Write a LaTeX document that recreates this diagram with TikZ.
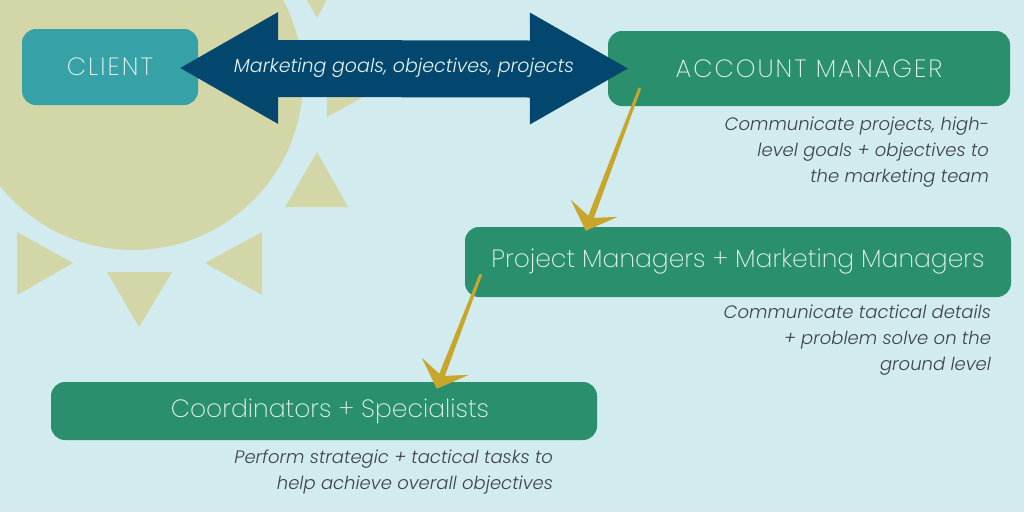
\documentclass[tikz,border=0pt]{standalone}
\usepackage{fontspec}
\setmainfont{Poppins}[UprightFont={* Light}, ItalicFont={* Light Italic}]
\newfontfamily\thinfont{Poppins ExtraLight}
\usetikzlibrary{calc}
\definecolor{bg}{HTML}{D1EBEE}
\definecolor{sun}{HTML}{D3D6A6}
\definecolor{clientc}{HTML}{36A2A7}
\definecolor{greenc}{HTML}{2A8F6D}
\definecolor{navy}{HTML}{03476F}
\definecolor{gold}{HTML}{C8A62B}
\definecolor{boxtext}{HTML}{E4F2EE}
\definecolor{captext}{HTML}{3D4245}
\newcommand{\GoldArrow}[2]{%
  \coordinate (nc) at ($(#2)+(5.3,-14)$);
  \fill[gold] ($(#1)+(-1.3,-0.5)$) -- ($(nc)+(-2.8,-1.1)$) -- ($(#2)+(-15,-31)$) -- (#2)
    -- ($(#2)+(32,-14)$) -- ($(nc)+(2.8,1.1)$) -- ($(#1)+(1.3,0.5)$) -- cycle;}
\begin{document}
\begin{tikzpicture}[x=1pt,y=-1pt,
  box/.style={rectangle, rounded corners=14pt, inner sep=0pt, text=boxtext},
  bigtext/.style={font=\thinfont\addfontfeature{LetterSpace=8}\fontsize{25}{30}\selectfont},
  midtext/.style={font=\thinfont\fontsize{25}{30}\selectfont},
  caption/.style={anchor=east, inner sep=0pt, align=right, text=captext,
    font=\itshape\fontsize{18}{26}\selectfont},
  ray/.style={fill=sun}]
\fill[bg] (0,0) rectangle (1024,512);
\useasboundingbox (0,0) rectangle (1024,512);
% sun
\fill[sun] (133,80) circle (170pt);
\fill[ray] (285,-39) -- (348,-39) -- (317,18) -- cycle;
\fill[ray] (327,54) -- (327,117) -- (384,85.5) -- cycle;
\fill[ray] (317,152) -- (348,207) -- (285,207) -- cycle;
\fill[ray] (205,263) -- (262,232) -- (262,295) -- cycle;
\fill[ray] (107,272) -- (172,272) -- (139,327) -- cycle;
\fill[ray] (17,232) -- (73,263) -- (17,295) -- cycle;
% boxes
\node[box, bigtext, fill=clientc, minimum width=176pt, minimum height=76pt] (client) at (110,67) {CLIENT};
\node[box, bigtext, fill=greenc, minimum width=402pt, minimum height=75pt] (account) at (809,68.5) {ACCOUNT MANAGER};
\node[box, midtext, fill=greenc, minimum width=546pt, minimum height=70pt] (pm) at (738,262) {Project Managers + Marketing Managers};
\node[box, midtext, fill=greenc, minimum width=546pt, minimum height=58pt] (coord) at (324,411) {\hspace*{12pt}Coordinators + Specialists};
% big double arrow
\coordinate (lt) at ($(client.east)+(-18,1)$);
\coordinate (rt) at ($(account.west)+(20,0)$);
\fill[navy] (lt) -- ($(lt)+(98,-56)$) -- ($(lt)+(98,-28)$) -- ($(rt)+(-98,-28)$) -- ($(rt)+(-98,-56)$)
  -- (rt) -- ($(rt)+(-98,56)$) -- ($(rt)+(-98,29)$) -- ($(lt)+(98,29)$) -- ($(lt)+(98,56)$) -- cycle;
\node[text=boxtext, inner sep=0pt, font=\itshape\fontsize{19}{23}\selectfont] (goals) at ($(lt)!0.5!(rt)$) {Marketing goals, objectives, projects};
% gold arrows
\coordinate (a1s) at ($(account.south west)+(32,-18)$);
\coordinate (a1t) at ($(pm.north west)+(121,4)$);
\GoldArrow{a1s}{a1t}
\coordinate (a2s) at ($(pm.south west)+(16,-23)$);
\coordinate (a2t) at ($(coord.north west)+(386,7)$);
\GoldArrow{a2s}{a2t}
% captions
\node[caption] (cap1) at ($(account.south east)+(-21,46)$) {Communicate projects, high-\\level goals + objectives to\\the marketing team};
\node[caption] (cap2) at ($(pm.south east)+(-20,43)$) {Communicate tactical details\\+ problem solve on the\\ground level};
\node[caption] (cap3) at ($(coord.south east)+(-44,32)$) {Perform strategic + tactical tasks to\\help achieve overall objectives};
\end{tikzpicture}
\end{document}
